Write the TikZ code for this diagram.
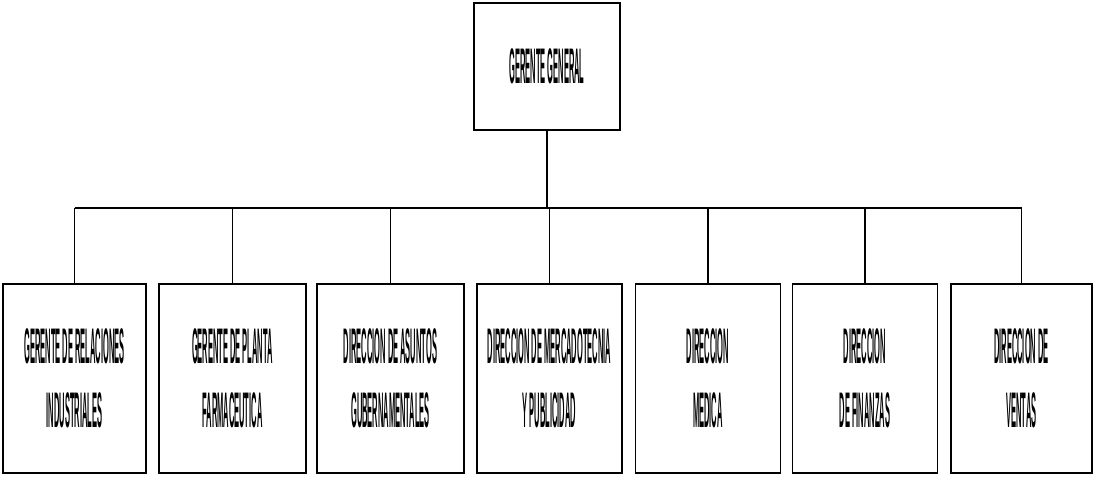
\documentclass[tikz,border=0pt]{standalone}
\usepackage{fontspec}
\setmainfont{Liberation Sans}
\usepackage{graphicx}
\newcommand{\cnd}[1]{\scalebox{0.15}[1]{\bfseries #1}}
\begin{document}
\begin{tikzpicture}[x=1pt,y=1pt,
  orgbox/.style={draw, line width=1.6pt, minimum width=145pt, minimum height=189pt, align=center, inner sep=0pt, font=\fontsize{50}{64}\selectfont},
  topbox/.style={draw, line width=1.6pt, minimum width=146pt, minimum height=127pt, align=center, inner sep=0pt, font=\fontsize{50}{60}\selectfont},
  link/.style={line width=1.6pt}]
\useasboundingbox (0,0) rectangle (1093,478);
\node[topbox] (top) at (547,411.5) {\cnd{GERENTE GENERAL}};
\node[orgbox, minimum width=143pt] (b1) at (74.5,99.5) {\cnd{GERENTE DE RELACIONES}\\\cnd{INDUSTRIALES}};
\node[orgbox, minimum width=147pt] (b2) at (232.5,99.5) {\cnd{GERENTE DE PLANTA}\\\cnd{FARMACEUTICA}};
\node[orgbox, minimum width=147pt] (b3) at (390.5,99.5) {\cnd{DIRECCION DE ASUNTOS}\\\cnd{GUBERNAMENTALES}};
\node[orgbox] (b4) at (549.5,99.5) {\cnd{DIRECCION DE MERCADOTECNIA}\\\cnd{Y PUBLICIDAD}};
\node[orgbox] (b5) at (708,99.5) {\cnd{DIRECCION}\\\cnd{MEDICA}};
\node[orgbox] (b6) at (865,99.5) {\cnd{DIRECCION}\\\cnd{DE FINANZAS}};
\node[orgbox, minimum width=141pt] (b7) at (1021.5,99.5) {\cnd{DIRECCION DE}\\\cnd{VENTAS}};
\coordinate (bar) at (547,270);
\draw[link] (top.south) -- (bar);
\draw[link] (b1.north |- bar) -- (b7.north |- bar);
\foreach \b in {b1,b2,b3,b4,b5,b6,b7}{\draw[link] (\b.north) -- (\b.north |- bar);}
\end{tikzpicture}
\end{document}
